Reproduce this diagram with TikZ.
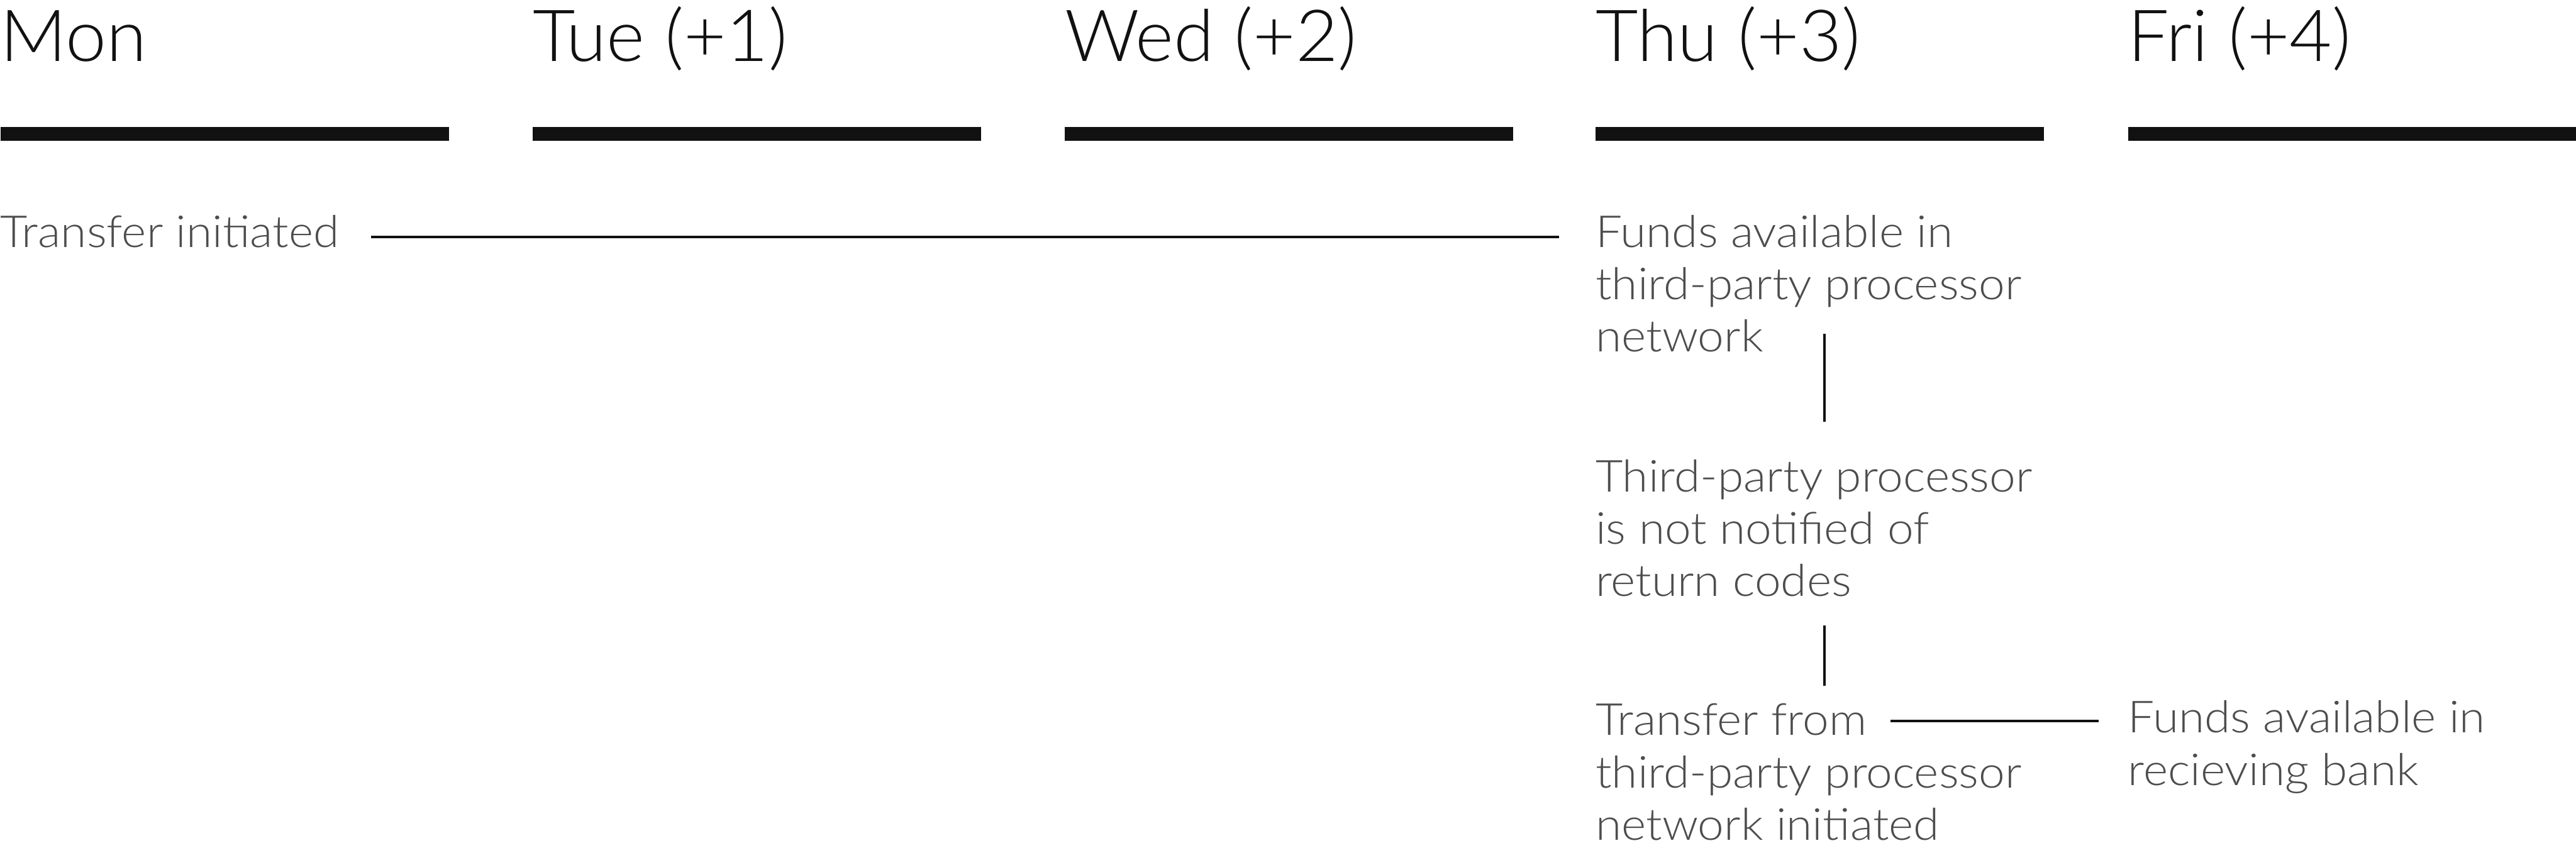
\documentclass[tikz,border=0pt]{standalone}
\usepackage{fontspec}
\IfFontExistsTF{Lato Light}{%
    \setmainfont{Lato Light}[FakeStretch=1.02]%
    \newfontfamily\notefont{Lato Light}[FakeStretch=1.065]}{%
    \setmainfont{Liberation Sans}%
    \newfontfamily\notefont{Liberation Sans}}

\definecolor{ink}{HTML}{111111}
\definecolor{notegray}{HTML}{4D4D4D}

\tikzset{
    daylabel/.style={anchor=base west, inner sep=0pt, text=ink,
        font=\fontsize{32.5}{36}\selectfont},
    daybar/.style={fill=ink, inner sep=0pt, anchor=west,
        minimum width=7.13cm, minimum height=0.22cm},
    note/.style={anchor=north west, inner sep=0pt, align=left, text=notegray,
        font=\notefont\fontsize{20}{23.7}\selectfont,
        execute at begin node=\strut, execute at end node=\strut},
    link/.style={draw=ink, line width=1pt},
}

\begin{document}
\begin{tikzpicture}
\useasboundingbox (0,0) rectangle (40.96,-13.56);

%% day headings
    \node[daylabel] (mon) at (0, -0.977) {Mon};
    \node[daylabel] (tue) at (8.463, -0.977) {Tue (+1)};
    \node[daylabel] (wed) at (16.926, -0.977) {Wed (+2)};
    \node[daylabel] (thu) at (25.365, -0.977) {Thu (+3)};
    \node[daylabel] (fri) at (33.83, -0.977) {Fri (+4)};

%% bars under the days
    \node[daybar] (barmon) at (0, -2.126) {};
    \node[daybar] (bartue) at (8.463, -2.126) {};
    \node[daybar] (barwed) at (16.926, -2.126) {};
    \node[daybar] (barthu) at (25.365, -2.126) {};
    \node[daybar] (barfri) at (33.83, -2.126) {};

%% notes
    \node[note, anchor=base west] (start) at (0, -3.935) {Transfer initiated};
    \node[note] (funds) at (25.365, -3.413) {Funds available in\\third-party processor\\network};
    \node[note] (notify) at (25.365, -7.305) {Third-party processor\\is not notified of\\return codes};
    \node[note] (payout) at (25.365, -11.189) {Transfer from\\third-party processor\\network initiated};
    \node[note] (bank) at (33.83, -11.139) {Funds available in\\recieving bank};

    \coordinate (spine) at (29.01, 0);
    \coordinate (payoutend) at (30.06, -11.47);

%% links
    \draw[link, shorten <=0.5cm, shorten >=0.575cm] (start.east) -- (start.east -| funds.west);
    \draw[link, shorten <=-0.54cm, shorten >=0.595cm] (funds.south -| spine) -- (notify.north -| spine);
    \draw[link, shorten <=0.2cm, shorten >=0.278cm] (notify.south -| spine) -- (payout.north -| spine);
    \draw[link, shorten >=0.46cm] (payoutend) -- (payoutend -| bank.west);
\end{tikzpicture}
\end{document}
